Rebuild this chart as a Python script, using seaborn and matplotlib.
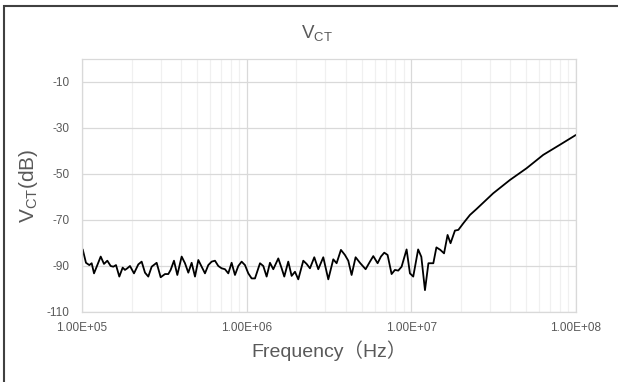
import numpy as np
import pandas as pd
import matplotlib
matplotlib.use("Agg")
import matplotlib.pyplot as plt
import seaborn as sns
from matplotlib.ticker import FuncFormatter, LogLocator
from matplotlib.patches import Rectangle

# Values
freq_hz = [1.01e5, 1.057e5, 1.108e5, 1.145e5, 1.183e5, 1.228e5, 1.299e5, 1.360e5, 1.425e5,
           1.493e5, 1.550e5, 1.609e5, 1.685e5, 1.766e5, 1.824e5, 1.884e5, 1.956e5, 2.069e5,
           2.198e5, 2.303e5, 2.413e5, 2.527e5, 2.649e5, 2.840e5, 3.004e5, 3.191e5, 3.343e5,
           3.454e5, 3.619e5, 3.792e5, 4.029e5, 4.221e5, 4.422e5, 4.633e5, 4.855e5, 5.086e5,
           5.329e5, 5.582e5, 5.848e5, 6.128e5, 6.420e5, 6.726e5, 7.047e5, 7.382e5, 7.734e5,
           8.103e5, 8.491e5, 8.896e5, 9.320e5, 9.765e5, 1.023e6,
           1.072e6, 1.123e6, 1.205e6, 1.262e6, 1.322e6, 1.385e6, 1.451e6, 1.556e6, 1.631e6,
           1.692e6, 1.789e6, 1.875e6, 1.965e6, 2.058e6, 2.207e6, 2.313e6, 2.423e6, 2.574e6,
           2.722e6, 2.919e6, 3.131e6, 3.357e6, 3.517e6, 3.736e6, 3.951e6, 4.140e6, 4.338e6,
           4.587e6, 4.874e6, 5.277e6, 5.606e6, 5.874e6, 6.240e6, 6.537e6, 6.848e6, 7.175e6,
           7.588e6, 7.949e6, 8.328e6, 8.727e6, 9.359e6, 9.806e6, 1.027e7,
           1.10e7, 1.15e7, 1.21e7, 1.27e7, 1.36e7, 1.42e7, 1.50e7, 1.58e7, 1.66e7, 1.73e7,
           1.84e7, 1.93e7, 2.07e7, 2.27e7, 2.49e7, 3.14e7, 3.97e7, 5.01e7, 6.32e7, 7.98e7, 1.0e8]
vct_db = [-82.8, -88.6, -89.6, -88.8, -93.2, -90.3, -85.9, -89.1, -87.7,
          -90.0, -90.3, -89.6, -94.6, -90.7, -91.7, -91.0, -90.0, -93.2,
          -89.3, -88.1, -92.9, -94.6, -90.3, -88.6, -94.9, -93.5, -93.5,
          -91.7, -87.7, -93.9, -85.9, -88.8, -92.9, -88.6, -94.6, -87.4,
          -90.3, -93.2, -89.6, -88.1, -87.7, -90.0, -91.0, -91.4, -93.2,
          -88.6, -93.9, -90.0, -88.1, -89.6, -93.2,
          -95.4, -95.4, -88.8, -90.0, -94.6, -88.6, -91.4, -86.7, -91.0,
          -94.6, -88.1, -94.3, -92.5, -95.8, -87.7, -89.1, -91.0, -86.2,
          -91.4, -86.2, -95.8, -87.1, -88.8, -83.0, -85.2, -87.7, -93.9,
          -86.2, -88.6, -91.4, -88.1, -85.7, -88.8, -85.9, -84.2, -85.2,
          -93.5, -91.7, -92.0, -90.3, -82.8, -93.2, -94.6,
          -82.8, -86.0, -100.5, -88.8, -88.8, -81.9, -83.0, -84.5, -76.5, -80.1,
          -74.6, -74.3, -71.4, -67.8, -65.2, -58.4, -52.6, -47.5, -41.7, -37.3, -33.0]
y_ticks = [-110, -90, -70, -50, -30, -10]

df = pd.DataFrame({"Frequency": freq_hz, "VCT": vct_db})

sns.set_style("white")
plt.rcParams["mathtext.fontset"] = "custom"
plt.rcParams["mathtext.rm"] = "Liberation Sans"
plt.rcParams["axes.unicode_minus"] = False
plt.rcParams["font.family"] = ["Liberation Sans", "Noto Sans CJK SC", "DejaVu Sans"]

txt = "#595959"
fig = plt.figure(figsize=(6.18, 3.82), dpi=100)
ax = fig.add_axes([82 / 618, 1 - 312 / 382, (576 - 82) / 618, (312 - 59) / 382])

sns.lineplot(data=df, x="Frequency", y="VCT", color="black", linewidth=1.3, ax=ax)

ax.set_xscale("log")
ax.set_xlim(1e5, 1e8)
ax.set_ylim(-110, 0)
ax.set_yticks(y_ticks)
ax.xaxis.set_major_locator(LogLocator(base=10, numticks=10))
ax.xaxis.set_minor_locator(LogLocator(base=10, subs=np.arange(2, 10), numticks=30))
ax.xaxis.set_major_formatter(FuncFormatter(lambda v, p: f"{v:.2E}"))
ax.xaxis.set_minor_formatter(FuncFormatter(lambda v, p: ""))

ax.grid(which="major", color="#D9D9D9", linewidth=0.9)
ax.grid(which="minor", axis="x", color="#F0F0F0", linewidth=0.9)
ax.set_axisbelow(True)
for s in ax.spines.values():
    s.set_color("#D9D9D9")
    s.set_linewidth(0.9)
ax.tick_params(which="both", length=0, labelsize=8.5, labelcolor=txt)
ax.tick_params(axis="x", pad=7)
ax.tick_params(axis="y", pad=9)

ax.set_xlabel("Frequency（Hz）", fontsize=14, color=txt, labelpad=5)
ax.set_ylabel(r"$\mathregular{V_{CT}}$(dB)", fontsize=15, color=txt, labelpad=5)
fig.text(0.513, 1 - 33 / 382, r"$\mathregular{V_{CT}}$", ha="center", va="center",
         fontsize=13.5, color=txt)

# outer chart border (cut off at right/bottom like the reference)
fig.patches.append(Rectangle((4 / 618, -0.05), 1.1, 1 - 6 / 382 + 0.05,
                             transform=fig.transFigure, fill=False,
                             edgecolor="#404040", linewidth=1.5))

fig.savefig("out.png", dpi=100)
